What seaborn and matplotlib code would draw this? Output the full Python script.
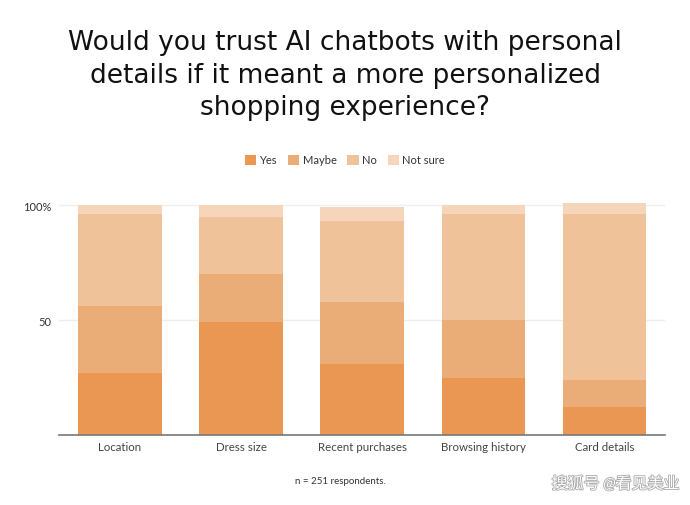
import matplotlib
matplotlib.use("Agg")
import matplotlib.pyplot as plt
import matplotlib.patheffects as pe
from matplotlib.patches import Patch
import numpy as np
import pandas as pd
import seaborn as sns

categories = ["Location", "Dress size", "Recent purchases", "Browsing history", "Card details"]
answers = ["Yes", "Maybe", "No", "Not sure"]
yes = [27, 49, 31, 25, 12]
maybe = [29, 21, 27, 25, 12]
no = [40, 25, 35, 46, 72]
not_sure = [4, 5, 6, 4, 5]
colors = ["#E99752", "#EBAD78", "#EFC29A", "#F6D6BA"]

sns.set_theme(style="white")
plt.rcParams["font.family"] = ["Lato", "Noto Sans CJK SC", "DejaVu Sans"]

df = pd.DataFrame({"category": categories, "Yes": yes, "Maybe": maybe,
                   "No": no, "Not sure": not_sure})
cum = df[answers].cumsum(axis=1)
cum["category"] = df["category"]

fig = plt.figure(figsize=(6.9, 5.06), dpi=100)
ax = fig.add_axes([0.086, 0.1383, 0.878, 0.4636])

# draw cumulative totals from the top down so they stack visually
for ans, col in reversed(list(zip(answers, colors))):
    sns.barplot(data=cum, x="category", y=ans, color=col, width=0.69,
                saturation=1, ax=ax, linewidth=0)

ax.set_xlim(-0.5, 4.5)
ax.set_ylim(0, 102)
ax.set_yticks([50, 100])
ax.set_yticklabels(["50", "100%"], fontsize=8, color="#333333")
ax.tick_params(axis="x", labelsize=8.3, colors="#444444", length=0, pad=4)
ax.tick_params(axis="y", length=0, pad=6)
ax.set_xlabel("")
ax.set_ylabel("")
for y in [50, 100]:
    ax.axhline(y, color="#EEEEEE", lw=1, zorder=0)
for s in ["top", "right", "left"]:
    ax.spines[s].set_visible(False)
ax.spines["bottom"].set_color("#777777")
ax.spines["bottom"].set_linewidth(1.2)

fig.text(0.5, 1 - 30 / 506, "Would you trust AI chatbots with personal\n"
         "details if it meant a more personalized\nshopping experience?",
         ha="center", va="top", fontsize=19, color="#111111",
         linespacing=1.33, family="DejaVu Sans")

handles = [Patch(facecolor=c, edgecolor="none") for c in colors]
fig.legend(handles, answers, loc="center", bbox_to_anchor=(0.5, 0.682), ncol=4,
           frameon=False, fontsize=8, handlelength=1.0, handleheight=1.0,
           handletextpad=0.3, columnspacing=1.0, labelcolor="#333333")

fig.text(0.494, 0.049, "n = 251 respondents.", ha="center", va="center",
         fontsize=7, color="#333333")
fig.text(0.985, 0.042, "搜狐号 @看见美业", ha="right", va="center", fontsize=11.5,
         color="white", style="italic",
         path_effects=[pe.withStroke(linewidth=1.2, foreground="#AAAAAA")])

fig.savefig("out.png", dpi=100)
